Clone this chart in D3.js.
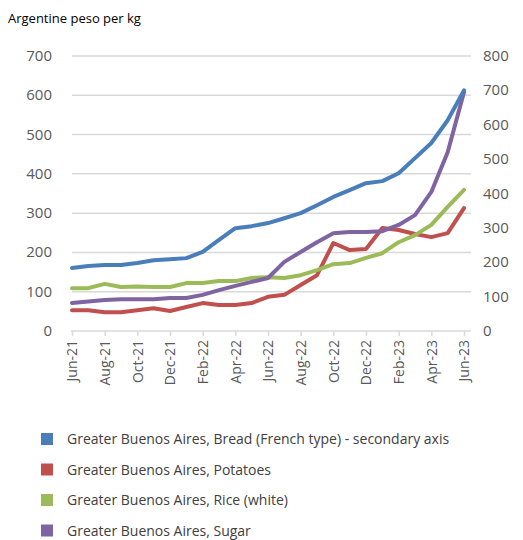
<!DOCTYPE html>
<meta charset="utf-8">
<script src="https://d3js.org/d3.v7.min.js"></script>
<style>
  body { margin: 0; background: #fff; }
  text { font-family: "Open Sans", "Liberation Sans", sans-serif; }
</style>
<div id="my_dataviz"></div>
<script>

// monthly categories, Jun-21 .. Jun-23
var months = ["Jun-21","Jul-21","Aug-21","Sep-21","Oct-21","Nov-21","Dec-21","Jan-22","Feb-22","Mar-22",
  "Apr-22","May-22","Jun-22","Jul-22","Aug-22","Sep-22","Oct-22","Nov-22","Dec-22","Jan-23",
  "Feb-23","Mar-23","Apr-23","May-23","Jun-23"];

// bread is on the secondary (right) axis
var bread = [183,189,192,192,198,206,209,212,230,265,299,305,314,328,343,366,390,410,430,436,459,503,547,613,700];
var potatoes = [53,53,48,48,53,58,51,61,71,66,66,71,87,92,117,142,224,206,209,262,257,247,239,249,313];
var rice = [109,109,120,112,113,112,112,122,122,127,127,135,137,135,142,155,170,173,186,198,226,244,270,316,359];
var sugar = [71,75,79,81,81,81,84,84,92,104,115,125,135,176,201,226,249,252,252,254,270,295,354,455,608];

var leftTicks = [0,100,200,300,400,500,600,700];
var rightTicks = [0,100,200,300,400,500,600,700,800];

var legendNames = ["Greater Buenos Aires, Bread (French type) - secondary axis",
  "Greater Buenos Aires, Potatoes",
  "Greater Buenos Aires, Rice (white)",
  "Greater Buenos Aires, Sugar"];
var colors = ["#4a7ebb","#c0504d","#9bbb59","#8064a2"];

var W = 523, H = 540;
var svg = d3.select("#my_dataviz").append("svg")
  .attr("width", W).attr("height", H);

var x = d3.scalePoint().domain(months).range([72, 464]);
var yL = d3.scaleLinear().domain([0, 700]).range([331, 56]);
var yR = d3.scaleLinear().domain([0, 800]).range([331, 56]);

svg.append("text")
  .attr("x", 8).attr("y", 23)
  .attr("font-size", 13).attr("fill", "#000")
  .text("Argentine peso per kg");

// gridlines
svg.append("g").selectAll("line")
  .data(leftTicks.filter(function(d) { return d > 0; }))
  .enter().append("line")
    .attr("x1", 72).attr("x2", 471)
    .attr("y1", function(d) { return yL(d); })
    .attr("y2", function(d) { return yL(d); })
    .attr("stroke", "#d9d9d9").attr("stroke-width", 1.5);

// left axis labels
svg.append("g").selectAll("text")
  .data(leftTicks).enter().append("text")
    .attr("x", 52).attr("y", function(d) { return yL(d) + 5; })
    .attr("text-anchor", "end")
    .attr("font-size", 15).attr("fill", "#595959")
    .text(function(d) { return d; });

// right axis labels
svg.append("g").selectAll("text")
  .data(rightTicks).enter().append("text")
    .attr("x", 483).attr("y", function(d) { return yR(d) + 5; })
    .attr("font-size", 15).attr("fill", "#595959")
    .text(function(d) { return d; });

// bottom axis
var tickMonths = months.filter(function(d, i) { return i % 2 === 0; });
var xAxis = svg.append("g")
  .attr("transform", "translate(0,331)")
  .call(d3.axisBottom(x).tickValues(tickMonths).tickSize(5).tickSizeOuter(0));
xAxis.select(".domain").attr("stroke", "#d9d9d9").attr("stroke-width", 1.5)
  .attr("d", "M71,0H471");
xAxis.selectAll(".tick line").attr("stroke", "#d9d9d9").attr("stroke-width", 1.5);
xAxis.selectAll(".tick text")
  .attr("transform", "rotate(-90)")
  .attr("x", -9).attr("y", 0).attr("dy", "0.35em")
  .attr("text-anchor", "end")
  .attr("font-size", 14).attr("fill", "#595959")
  .attr("font-family", "\"Open Sans\", sans-serif");

// lines
var lineL = d3.line()
  .x(function(d, i) { return x(months[i]); })
  .y(function(d) { return yL(d); });
var lineR = d3.line()
  .x(function(d, i) { return x(months[i]); })
  .y(function(d) { return yR(d); });

var series = [
  {values: potatoes, color: colors[1], line: lineL},
  {values: rice, color: colors[2], line: lineL},
  {values: sugar, color: colors[3], line: lineL},
  {values: bread, color: colors[0], line: lineR}
];
series.forEach(function(s) {
  svg.append("path")
    .datum(s.values)
    .attr("fill", "none")
    .attr("stroke", s.color)
    .attr("stroke-width", 4)
    .attr("stroke-linejoin", "round")
    .attr("stroke-linecap", "round")
    .attr("d", s.line);
});

// legend
var legend = svg.append("g").selectAll("g")
  .data(legendNames).enter().append("g")
    .attr("transform", function(d, i) { return "translate(41," + (433 + i * 30.5) + ")"; });
legend.append("rect")
  .attr("width", 12).attr("height", 12)
  .attr("fill", function(d, i) { return colors[i]; });
legend.append("text")
  .attr("x", 26).attr("y", 11)
  .attr("font-size", 14).attr("fill", "#404040")
  .text(function(d) { return d; });

</script>
